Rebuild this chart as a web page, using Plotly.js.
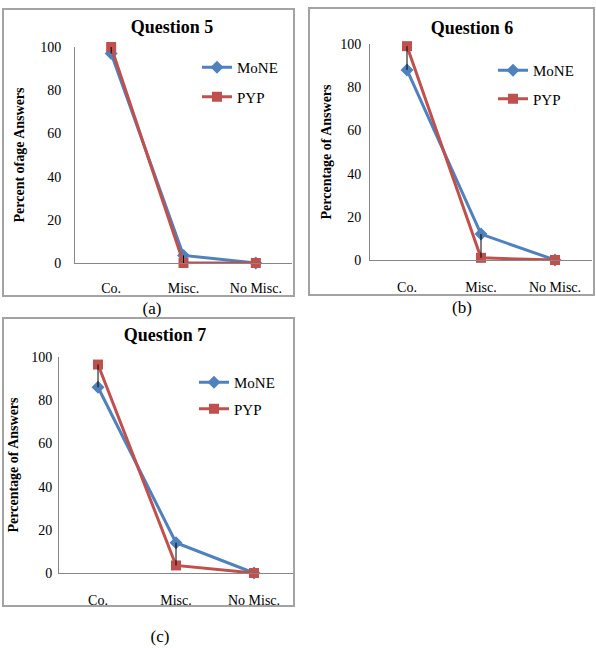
<!DOCTYPE html>
<html><head><meta charset="utf-8">
<script src="https://cdn.plot.ly/plotly-3.0.1.min.js"></script>
<style>
body{margin:0;background:#fff;width:596px;height:662px;position:relative;overflow:hidden;font-family:"Liberation Serif",serif}
.plot{position:absolute}
.frame{position:absolute;box-sizing:border-box;border:2px solid #a3a3a3;pointer-events:none;z-index:5}
.cap{position:absolute;font-size:17px;transform:translate(-50%,-50%);color:#000;white-space:nowrap}
</style></head><body>
<div id="pa" class="plot"></div><div id="fa" class="frame"></div>
<div id="pb" class="plot"></div><div id="fb" class="frame"></div>
<div id="pc" class="plot"></div><div id="fc" class="frame"></div>
<div id="ca" class="cap"></div><div id="cb" class="cap"></div><div id="cc" class="cap"></div>
<script>
// ---- data ----
const categories = ["Co.", "Misc.", "No Misc."];
const seriesNames = ["MoNE", "PYP"];
const q5MoNE = [97, 3.5, 0];
const q5PYP  = [100, 0, 0];
const q6MoNE = [88, 12, 0];
const q6PYP  = [99, 1, 0];
const q7MoNE = [86, 14, 0];
const q7PYP  = [96.5, 3.5, 0];
const panelTitles = ["Question 5", "Question 6", "Question 7"];
const yTitles = ["Percent ofage Answers", "Percentage of Answers", "Percentage of Answers"];
const captions = ["(a)", "(b)", "(c)"];
const yTickVals = [0, 20, 40, 60, 80, 100];

// ---- layout / style ----
const FONT = '"Liberation Serif", "Times New Roman", serif';
const BLUE = '#4F81BD', RED = '#C0504D', AXIS = '#868686';
const panels = [
  {plot:'pa', frame:'fa', cap:'ca', left:2, top:8, w:293, h:289, m:{l:73,r:3,t:39,b:34}, ysd:10, ytsd:12, tsd:12, title:{x:170,y:19}, leg:{x:195,y:43,gap:7}, capPos:{x:152,y:309}, mone:q5MoNE, pyp:q5PYP},
  {plot:'pb', frame:'fb', cap:'cb', left:308, top:7, w:287, h:289, m:{l:62,r:3,t:37,b:36}, ysd:5, ytsd:14, tsd:5, title:{x:164,y:21}, leg:{x:185,y:47,gap:6}, capPos:{x:462,y:308}, mone:q6MoNE, pyp:q6PYP},
  {plot:'pc', frame:'fc', cap:'cc', left:2, top:317, w:293, h:290, m:{l:57,r:2,t:40,b:34}, ysd:3, ytsd:14, tsd:9, title:{x:163,y:18}, leg:{x:192,y:49,gap:4}, capPos:{x:160,y:637}, mone:q7MoNE, pyp:q7PYP}
];

panels.forEach((p, i) => {
  const pd = document.getElementById(p.plot), fd = document.getElementById(p.frame);
  [pd, fd].forEach(d => { d.style.left = p.left + 'px'; d.style.top = p.top + 'px'; d.style.width = p.w + 'px'; d.style.height = p.h + 'px'; });
  const cd = document.getElementById(p.cap);
  cd.textContent = captions[i];
  cd.style.left = p.capPos.x + 'px'; cd.style.top = p.capPos.y + 'px';

  // hi-lo connector lines built from the series values
  const hx = [], hy = [];
  categories.forEach((c, k) => { hx.push(c, c, null); hy.push(p.mone[k], p.pyp[k], null); });

  const pw = p.w - p.m.l - p.m.r, ph = p.h - p.m.t - p.m.b;
  const traces = [
    {x: categories, y: p.mone, name: seriesNames[0], type: 'scatter', mode: 'lines+markers', legendgroup: 'a',
     line: {color: BLUE, width: 3}, marker: {symbol: 'diamond', size: 10, color: BLUE}, cliponaxis: false},
    {x: categories, y: p.pyp, name: seriesNames[1], type: 'scatter', mode: 'lines+markers', legendgroup: 'b',
     line: {color: RED, width: 3}, marker: {symbol: 'square', size: 10, color: RED}, cliponaxis: false},
    {x: hx, y: hy, type: 'scatter', mode: 'lines', showlegend: false, line: {color: '#000', width: 1}, cliponaxis: false, hoverinfo: 'skip'}
  ];
  const layout = {
    width: p.w, height: p.h, margin: p.m, paper_bgcolor: '#fff', plot_bgcolor: '#fff',
    font: {family: FONT, color: '#000', size: 14},
    title: {text: '<b>' + panelTitles[i] + '</b>', font: {family: FONT, size: 18, color: '#000'},
            xref: 'container', yref: 'container', x: p.title.x / p.w, y: 1 - p.title.y / p.h, xanchor: 'center', yanchor: 'middle'},
    showlegend: true,
    legend: {xref: 'paper', yref: 'paper', x: (p.leg.x - p.m.l) / pw, y: 1 - (p.leg.y - p.m.t) / ph, xanchor: 'left', yanchor: 'top',
             font: {family: FONT, size: 15, color: '#000'}, bgcolor: 'rgba(0,0,0,0)', borderwidth: 0,
             traceorder: 'grouped', tracegroupgap: p.leg.gap},
    xaxis: {type: 'category', range: [-0.5, 2.5], showline: true, linecolor: AXIS, linewidth: 1, showgrid: false, zeroline: false,
            ticks: '', ticklabelstandoff: p.ytsd, tickangle: 0, automargin: false, tickfont: {family: FONT, size: 14, color: '#000'}, fixedrange: true},
    yaxis: {range: [0, 100], tickvals: yTickVals, showline: true, linecolor: AXIS, linewidth: 1, showgrid: false, zeroline: false,
            ticks: '', ticklabelstandoff: p.ysd, automargin: false, tickfont: {family: FONT, size: 14, color: '#000'}, fixedrange: true,
            title: {text: '<b>' + yTitles[i] + '</b>', font: {family: FONT, size: 14, color: '#000'}, standoff: p.tsd}},
    hovermode: false
  };
  Plotly.newPlot(pd, traces, layout, {staticPlot: true, displayModeBar: false});
});
</script>
</body></html>
